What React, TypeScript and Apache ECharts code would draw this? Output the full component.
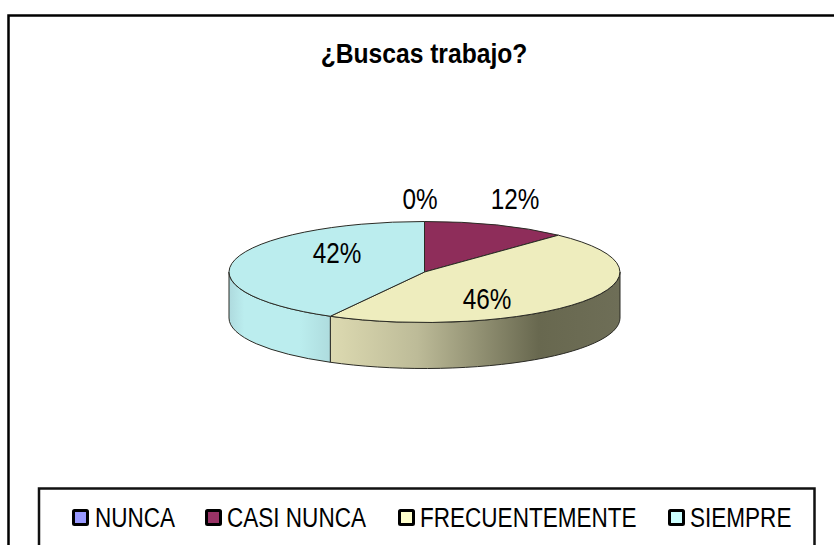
import React, { useEffect, useRef } from "react";
import * as echarts from "echarts";

const categories = ["NUNCA", "CASI NUNCA", "FRECUENTEMENTE", "SIEMPRE"];
const values = [0, 12, 46, 42];
const chartTitle = "¿Buscas trabajo?";

const legendColors = ["#9999FF", "#993366", "#FFFFCC", "#CCFFFF"];
const topColors = ["#8C8CEB", "#8E2D5A", "#EEEDBE", "#BBEDEE"];
const labelAnchors = [
  [420, 198.5],
  [515, 198.5],
  [487, 298.5],
  [337, 253],
];
const legendIconX = [73.5, 206.5, 399.5, 669.5];
const legendTextX = [95, 227, 420, 690];

const FONT = "'Liberation Sans', Arial, sans-serif";
const CX = 424.5;
const CY = 272;
const RX = 195.5;
const RY = 50.5;
const DEPTH = 46;
const LINE = "#2b2b25";

const total = values.reduce((a, b) => a + b, 0);
const px = (t: number) => CX + RX * Math.sin(t);
const py = (t: number) => CY - RY * Math.cos(t);
const pt = (t: number, dy = 0) => `${px(t).toFixed(2)} ${(py(t) + dy).toFixed(2)}`;
const arc = (t: number, large: number, sweep: number, dy = 0) =>
  `A ${RX} ${RY} 0 ${large} ${sweep} ${pt(t, dy)}`;

const sideFills: Record<number, any> = {
  2: new echarts.graphic.LinearGradient(0, 0, 1, 0, [
    { offset: 0, color: "#DDDAB1" },
    { offset: 0.3, color: "#BDBB98" },
    { offset: 0.72, color: "#68684F" },
    { offset: 1, color: "#6E6E57" },
  ]),
  3: new echarts.graphic.LinearGradient(0, 0, 1, 0, [
    { offset: 0, color: "#AEDADE" },
    { offset: 0.15, color: "#BBEDEE" },
    { offset: 0.7, color: "#BBEDEE" },
    { offset: 1, color: "#AEDCDE" },
  ]),
};

function renderSlice(index: number) {
  return (_params: any, api: any) => {
    const value = api.value(0) as number;
    let before = 0;
    for (let i = 0; i < index; i++) before += values[i];
    const a = (before / total) * Math.PI * 2;
    const b = ((before + value) / total) * Math.PI * 2;
    const children: any[] = [];
    if (value > 0) {
      const sa = Math.max(a, Math.PI / 2);
      const sb = Math.min(b, (Math.PI * 3) / 2);
      if (sb > sa) {
        const d = `M ${pt(sa)} ${arc(sb, 0, 1)} L ${pt(sb, DEPTH)} ${arc(sa, 0, 0, DEPTH)} Z`;
        children.push({
          type: "path",
          shape: { pathData: d },
          style: { fill: sideFills[index] || topColors[index], stroke: LINE, lineWidth: 1 },
        });
      }
      const large = b - a > Math.PI ? 1 : 0;
      children.push({
        type: "path",
        shape: { pathData: `M ${CX} ${CY} L ${pt(a)} ${arc(b, large, 1)} Z` },
        style: { fill: topColors[index], stroke: LINE, lineWidth: 1 },
      });
    }
    children.push({
      type: "text",
      x: labelAnchors[index][0],
      y: labelAnchors[index][1],
      scaleX: 0.81,
      z2: 10,
      style: {
        text: `${value}%`,
        fontFamily: FONT,
        fontSize: 30,
        fill: "#000",
        align: "center",
        verticalAlign: "middle",
      },
    });
    return { type: "group", children };
  };
}

export default function App() {
  const ref = useRef<HTMLDivElement>(null);
  useEffect(() => {
    const chart = echarts.init(ref.current!, null, { renderer: "svg" });
    const legendItems: any[] = [];
    categories.forEach((name, i) => {
      legendItems.push({
        type: "rect",
        silent: true,
        z: 5,
        shape: { x: legendIconX[i], y: 510.5, width: 14, height: 14, r: 1 },
        style: { fill: legendColors[i], stroke: "#000", lineWidth: 3 },
      });
      legendItems.push({
        type: "text",
        silent: true,
        z: 5,
        x: legendTextX[i],
        y: 517,
        scaleX: 0.805,
        style: {
          text: name,
          fontFamily: FONT,
          fontSize: 28,
          fill: "#000",
          align: "left",
          verticalAlign: "middle",
        },
      });
    });
    chart.setOption({
      animation: false,
      backgroundColor: "#fff",
      graphic: [
        {
          type: "rect",
          silent: true,
          z: -10,
          shape: { x: 8.5, y: 15.5, width: 840, height: 560 },
          style: { fill: "#fff", stroke: "#000", lineWidth: 2.5 },
        },
        {
          type: "rect",
          silent: true,
          z: -9,
          shape: { x: 39, y: 488.5, width: 775.5, height: 80 },
          style: { fill: "#fff", stroke: "#111", lineWidth: 2.5 },
        },
        {
          type: "text",
          silent: true,
          z: 5,
          x: 424,
          y: 53,
          scaleX: 0.88,
          style: {
            text: chartTitle,
            fontFamily: FONT,
            fontSize: 28,
            fontWeight: "bold",
            fill: "#000",
            align: "center",
            verticalAlign: "middle",
          },
        },
        ...legendItems,
      ],
      series: categories.map((name, i) => ({
        type: "custom",
        name,
        coordinateSystem: "none",
        silent: true,
        itemStyle: { color: legendColors[i] },
        data: [[values[i]]],
        renderItem: renderSlice(i),
      })),
    });
    return () => chart.dispose();
  }, []);
  return <div ref={ref} style={{ position: "fixed", left: 0, top: 0, width: 834, height: 545 }} />;
}
